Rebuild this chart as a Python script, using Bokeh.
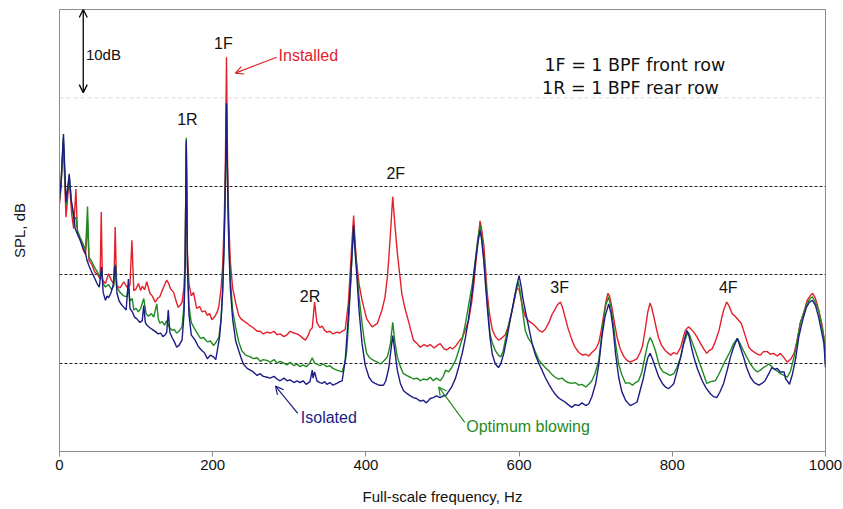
from bokeh.plotting import figure
from bokeh.models import Label, Arrow, OpenHead, Span, FixedTicker
from bokeh.embed import file_html
from bokeh.resources import INLINE

# ---------------- data (frequency Hz, SPL dB relative) ----------------
installed_pts = [
    (0, 28.0), (2, 30.0), (5, 35.0), (8.5, 26.5), (12.7, 30.8), (16, 26.8), (18.5, 25.2), (21.4, 29.7),
    (23.5, 24.6), (27, 24.0), (31, 22.8), (34, 22.3), (36.6, 26.0), (38.5, 21.6), (42, 21.2), (46, 20.3),
    (50, 20.0), (53, 19.5), (54.5, 27.1), (56, 19.4), (60, 19.0), (64, 20.1), (68, 19.3), (71, 19.0),
    (72.7, 25.4), (74.5, 18.8), (79, 18.5), (84, 19.2), (88, 18.6), (92, 18.8), (94.5, 23.9), (97, 18.2),
    (100, 18.4), (103, 19.0), (106, 18.2), (108, 18.7), (111, 18.3), (114, 19.2), (118, 17.9), (121, 17.6),
    (125, 16.9), (128, 17.3), (131, 17.5), (134, 18.2), (136, 18.6), (140, 19.4), (143, 18.9), (145, 18.4),
    (149, 18.0), (153, 16.8), (155, 16.3), (158, 16.6), (160, 16.9), (162.5, 18.5), (164, 22.0), (165.5, 34.8),
    (167, 22.5), (169, 19.0), (172, 17.6), (175, 18.0), (179, 16.2), (183, 16.4), (186, 15.8), (190, 15.9),
    (193, 15.4), (196, 15.6), (199, 14.9), (203, 15.3), (206, 15.8), (208, 16.4), (211, 18.5), (213, 21.0),
    (215, 26.0), (216.5, 32.0), (218, 44.6), (219.5, 32.0), (221, 26.0), (223, 21.5), (226, 18.5), (230, 16.8),
    (234, 15.4), (237, 15.0), (240, 14.8), (245, 14.5), (249, 14.2), (253, 14.0), (258, 13.6), (262, 13.6),
    (266, 13.3), (271, 13.5), (275, 13.4), (280, 13.6), (284, 13.2), (288, 13.3), (293, 13.0), (297, 13.2),
    (301, 13.6), (306, 13.4), (310, 13.3), (314, 13.1), (318, 12.8), (321, 12.6), (325, 13.2), (327, 13.7),
    (330, 14.0), (333, 16.9), (336, 14.6), (340, 14.0), (343, 14.2), (346, 13.7), (349, 13.5), (353, 13.6),
    (357, 13.3), (362, 13.5), (366, 13.4), (369, 13.6), (373, 13.8), (377, 16.7), (380, 21.0), (382, 24.0),
    (384, 26.7), (386, 23.5), (388, 21.3), (391, 19.0), (395, 17.1), (401, 15.0), (408, 14.1), (415, 14.5),
    (421, 16.0), (425, 17.5), (428, 19.7), (430, 22.0), (432, 24.6), (435, 28.8), (438, 25.5), (441, 22.5),
    (447, 17.8), (451, 16.2), (456, 14.6), (462, 12.6), (467, 12.2), (471, 11.8), (476, 12.1), (480, 11.9),
    (484, 12.1), (489, 11.7), (493, 12.0), (497, 12.2), (502, 11.6), (506, 11.5), (510, 11.8), (513, 11.6),
    (517, 11.9), (521, 12.4), (526, 12.9), (530, 13.8), (534, 14.8), (538, 16.8), (541, 19.0), (543, 20.9),
    (546, 23.5), (549, 26.1), (551, 25.2), (554, 23.3), (556, 20.9), (558, 18.3), (561, 15.8), (565, 13.8),
    (569, 13.0), (573, 12.6), (577, 12.8), (582, 13.2), (586, 14.2), (591, 16.0), (594, 17.2), (597, 18.5),
    (600, 18.3), (602, 17.5), (605, 16.2), (608, 15.3), (612, 14.8), (617, 14.5), (621, 14.2), (626, 13.7),
    (630, 13.5), (634, 13.8), (639, 14.6), (643, 15.5), (647, 16.1), (650, 16.6), (654, 16.9), (657, 16.2),
    (660, 15.2), (664, 13.9), (669, 12.6), (673, 11.8), (678, 11.2), (683, 10.9), (687, 11.0), (691, 10.8),
    (695, 11.2), (700, 11.6), (704, 12.3), (707, 13.6), (710, 15.2), (713, 16.8), (716, 17.9), (718, 17.6),
    (721, 16.4), (725, 14.3), (728, 12.9), (732, 11.6), (737, 10.7), (741, 10.3), (745, 10.1), (750, 10.3),
    (754, 10.5), (758, 11.2), (761, 11.9), (765, 14.0), (768, 15.8), (771, 16.8), (773, 16.3), (776, 15.2),
    (779, 14.0), (782, 12.9), (786, 12.0), (791, 11.4), (795, 11.1), (798, 10.9), (802, 11.2), (806, 11.0),
    (811, 11.8), (814, 12.8), (817, 13.7), (821, 14.1), (824, 13.9), (828, 13.5), (832, 13.0), (837, 12.2),
    (841, 11.6), (845, 11.1), (848, 11.4), (852, 11.6), (856, 12.4), (861, 13.7), (865, 15.3), (867, 16.0),
    (871, 16.9), (874, 16.5), (878, 15.6), (882, 15.3), (887, 14.8), (890, 14.5), (893, 13.7), (897, 12.6),
    (900, 11.8), (903, 11.5), (906, 11.3), (911, 11.0), (915, 10.9), (919, 11.3), (924, 11.3), (928, 11.0),
    (932, 11.1), (937, 10.8), (941, 11.1), (946, 10.6), (950, 10.1), (955, 10.5), (959, 11.1), (963, 12.6),
    (967, 14.5), (972, 15.8), (976, 17.1), (980, 17.6), (983, 17.9), (986, 17.5), (989, 16.7), (993, 15.3),
    (996, 14.1), (1000, 11.4),
]

optimum_pts = [
    (0, 28.3), (2, 30.0), (5, 35.5), (8.5, 27.8), (12.7, 31.1), (16, 27.9), (18.5, 26.3), (21.4, 26.5),
    (23.5, 25.0), (27, 24.2), (31, 23.4), (34, 22.8), (36.6, 27.7), (38.5, 22.0), (42, 21.5), (46, 20.8),
    (50, 20.2), (53, 19.7), (55, 20.5), (57, 19.0), (60, 18.6), (64, 18.9), (68, 18.3), (71, 18.8),
    (73, 21.2), (75, 18.6), (79, 18.0), (84, 17.6), (88, 17.5), (90, 18.6), (92, 17.0), (95, 17.3),
    (97, 16.0), (100, 16.2), (103, 15.8), (106, 16.2), (110, 17.3), (113, 15.6), (116, 15.3), (120, 15.6),
    (123, 15.2), (127, 16.7), (129, 15.0), (131, 14.5), (134, 14.7), (137, 14.3), (140, 14.8), (143, 14.1),
    (147, 13.7), (150, 13.8), (153, 13.4), (156, 13.6), (160, 14.1), (162.5, 16.5), (164, 21.0), (165.5, 35.5),
    (167, 21.5), (169, 16.5), (172, 14.6), (175, 14.1), (179, 13.5), (184, 12.8), (188, 12.9), (193, 12.4),
    (197, 12.5), (201, 12.0), (204, 12.3), (208, 12.9), (211, 15.0), (213, 18.5), (215, 24.0), (216.5, 30.0),
    (218, 39.2), (219.5, 30.0), (221, 24.0), (223, 19.5), (226, 16.0), (230, 14.0), (234, 12.4), (238, 11.4),
    (243, 10.9), (249, 10.7), (253, 10.5), (258, 10.6), (262, 10.2), (266, 10.4), (271, 10.3), (275, 10.1),
    (280, 10.4), (284, 10.0), (288, 10.2), (293, 10.0), (297, 9.8), (301, 10.1), (306, 9.7), (310, 9.9),
    (314, 9.6), (318, 9.8), (322, 9.6), (326, 9.9), (330, 10.6), (333, 10.0), (336, 9.9), (340, 9.7),
    (344, 9.9), (349, 9.6), (353, 9.7), (357, 9.4), (362, 9.2), (366, 9.1), (369, 9.0), (373, 10.2),
    (375, 11.4), (378, 15.5), (380, 19.0), (382, 22.5), (384, 25.4), (386, 22.8), (388, 20.9), (391, 17.5),
    (395, 14.5), (398, 12.5), (401, 11.1), (405, 10.6), (410, 10.3), (415, 10.1), (419, 9.9), (423, 10.2),
    (428, 10.7), (430, 11.4), (432, 12.2), (435, 14.6), (438, 12.3), (441, 10.7), (445, 9.6), (449, 8.8),
    (453, 8.6), (458, 8.4), (462, 8.2), (467, 8.3), (471, 8.0), (475, 8.2), (480, 8.1), (484, 8.4),
    (488, 8.0), (492, 8.3), (497, 8.0), (501, 8.5), (504, 9.2), (508, 9.0), (512, 9.5), (517, 10.3),
    (521, 11.4), (526, 12.8), (530, 14.5), (534, 16.5), (539, 19.0), (543, 21.8), (546, 24.0), (549, 25.6),
    (551, 24.5), (554, 21.8), (556, 19.7), (559, 16.4), (562, 13.3), (565, 12.3), (569, 11.4), (573, 10.9),
    (576, 10.7), (579, 11.3), (582, 12.6), (586, 14.2), (591, 16.0), (595, 17.8), (599, 19.2), (602, 17.8),
    (605, 15.6), (608, 13.7), (612, 12.8), (617, 12.2), (621, 11.3), (626, 10.3), (630, 9.9), (634, 9.5),
    (639, 9.1), (643, 8.7), (647, 8.4), (651, 8.2), (656, 8.3), (660, 8.0), (664, 7.8), (669, 7.7),
    (673, 7.8), (678, 7.5), (682, 7.6), (687, 7.3), (691, 7.6), (695, 8.0), (699, 8.8), (704, 10.3),
    (707, 12.5), (710, 14.8), (713, 16.5), (717, 17.5), (720, 16.3), (723, 14.5), (726, 12.2), (730, 9.9),
    (734, 8.7), (739, 7.7), (743, 7.8), (748, 7.5), (752, 7.8), (756, 8.0), (760, 8.9), (765, 11.0),
    (768, 12.2), (771, 12.9), (774, 12.4), (778, 11.4), (781, 10.4), (784, 9.5), (788, 9.0), (793, 8.8),
    (797, 8.6), (802, 8.8), (806, 9.5), (811, 10.7), (815, 12.2), (819, 13.2), (821, 13.5), (825, 12.6),
    (830, 11.4), (834, 10.4), (839, 9.2), (843, 8.2), (845, 7.7), (850, 7.9), (856, 8.0), (860, 8.6),
    (865, 9.5), (870, 10.4), (876, 11.4), (880, 12.2), (885, 12.8), (888, 12.3), (893, 11.4), (897, 10.7),
    (902, 9.9), (906, 9.4), (911, 9.0), (915, 9.2), (919, 9.5), (923, 9.7), (926, 9.9), (930, 9.6),
    (932, 9.4), (937, 9.1), (941, 8.8), (946, 8.6), (950, 8.4), (954, 9.0), (959, 10.7), (963, 12.5),
    (967, 14.5), (972, 15.8), (976, 16.8), (980, 17.3), (983, 17.5), (986, 17.0), (991, 16.0), (995, 14.2),
    (998, 12.9), (1000, 9.9),
]

isolated_pts = [
    (0, 28.6), (2, 30.5), (5.2, 35.9), (8.5, 28.2), (12.7, 31.4), (15.3, 28.4), (18.3, 26.9), (20.5, 25.2),
    (24, 24.5), (27, 23.9), (31, 23.0), (34, 22.4), (36, 21.6), (39, 20.9), (42, 20.3), (46, 19.6),
    (49, 19.0), (52, 18.6), (55, 20.9), (57, 18.0), (60, 17.1), (62, 17.6), (64, 17.4), (67, 17.9),
    (70, 18.8), (72, 20.8), (73, 21.0), (75, 17.9), (78, 17.0), (81, 16.6), (84, 16.3), (87, 16.0),
    (90, 19.5), (92, 16.2), (95, 15.8), (98, 15.2), (101, 15.0), (105, 14.6), (108, 14.8), (110, 16.5),
    (112, 14.6), (114, 14.3), (118, 14.0), (123, 13.7), (126, 13.5), (129, 13.3), (132, 13.4), (135, 13.0),
    (138, 13.2), (140, 13.5), (142, 16.0), (144, 13.5), (147, 12.9), (150, 12.4), (153, 11.8), (156, 12.0),
    (160, 12.6), (162.5, 15.5), (164, 20.5), (165.5, 35.2), (167, 21.0), (169, 15.5), (172, 13.2), (177, 12.6),
    (181, 11.9), (186, 11.4), (189, 11.2), (193, 10.5), (197, 10.9), (201, 10.7), (204, 10.4), (206, 11.4),
    (209, 13.0), (211, 15.0), (213, 18.0), (215, 23.5), (216.5, 30.0), (218, 39.4), (219.5, 30.0), (221, 23.5),
    (223, 18.5), (226, 15.0), (230, 12.5), (234, 11.4), (237, 10.6), (240, 9.9), (245, 9.4), (249, 9.2),
    (253, 9.0), (258, 8.6), (262, 8.8), (266, 8.5), (271, 8.4), (275, 8.3), (280, 8.5), (284, 8.2),
    (288, 8.0), (293, 8.3), (297, 8.0), (301, 8.1), (306, 7.8), (310, 8.0), (314, 7.8), (318, 8.0),
    (322, 7.6), (327, 7.9), (330, 9.2), (331, 8.3), (333, 9.0), (336, 8.0), (340, 7.8), (343, 7.7),
    (346, 7.9), (349, 7.6), (353, 7.8), (357, 7.5), (362, 7.7), (366, 7.9), (369, 8.0), (373, 10.3),
    (377, 15.2), (380, 19.0), (382, 22.5), (384, 25.6), (386, 22.5), (388, 20.1), (391, 16.0), (395, 12.2),
    (399, 9.8), (404, 8.4), (408, 7.9), (412, 7.7), (417, 7.5), (423, 7.5), (426, 8.0), (430, 9.5),
    (432, 11.0), (435, 13.1), (438, 11.2), (441, 9.2), (445, 7.7), (449, 6.9), (453, 6.6), (458, 6.3),
    (462, 6.1), (466, 6.0), (471, 5.7), (475, 5.8), (479, 5.5), (484, 6.0), (488, 6.1), (492, 6.3),
    (497, 6.1), (501, 6.3), (504, 6.3), (508, 6.8), (512, 7.3), (517, 8.3), (521, 9.5), (526, 11.2),
    (530, 12.9), (534, 15.0), (539, 18.2), (543, 21.5), (546, 23.5), (549, 25.0), (551, 24.0), (554, 21.5),
    (556, 19.0), (559, 15.8), (562, 12.9), (565, 11.0), (569, 9.9), (573, 9.5), (576, 9.9), (580, 11.1),
    (584, 12.8), (589, 15.2), (593, 17.0), (597, 18.8), (600, 19.9), (603, 18.5), (605, 17.3), (608, 16.0),
    (612, 14.3), (617, 12.2), (621, 11.0), (626, 9.9), (630, 9.2), (634, 8.4), (639, 7.6), (643, 7.0),
    (647, 6.5), (651, 6.1), (656, 5.8), (660, 5.6), (664, 5.3), (669, 5.0), (673, 5.3), (678, 5.2),
    (682, 5.5), (687, 5.2), (691, 5.4), (695, 6.2), (700, 7.7), (704, 9.8), (708, 12.9), (712, 15.2),
    (717, 16.7), (720, 15.6), (723, 13.7), (726, 11.0), (730, 8.4), (734, 6.8), (739, 5.8), (742, 5.5),
    (745, 5.2), (750, 5.4), (754, 5.6), (758, 6.9), (762, 8.2), (765, 9.5), (768, 10.6), (771, 11.1),
    (774, 10.5), (778, 9.5), (782, 8.5), (787, 7.7), (791, 7.3), (795, 7.1), (799, 7.4), (802, 7.7),
    (806, 9.0), (811, 10.7), (815, 12.4), (819, 13.7), (822, 13.0), (825, 11.8), (828, 10.7), (833, 9.3),
    (839, 8.0), (844, 7.2), (850, 6.5), (854, 6.2), (858, 6.1), (862, 6.7), (867, 7.7), (872, 9.3),
    (876, 10.7), (880, 11.8), (885, 12.8), (888, 12.0), (893, 10.7), (897, 9.5), (902, 8.4), (907, 7.8),
    (913, 7.5), (917, 7.7), (921, 8.0), (926, 8.8), (930, 9.5), (934, 9.3), (937, 9.4), (941, 9.0),
    (946, 9.0), (948, 8.2), (950, 8.0), (953, 7.6), (957, 8.8), (961, 10.5), (965, 12.9), (970, 14.8),
    (975, 16.3), (979, 16.9), (983, 17.1), (987, 16.5), (991, 15.2), (995, 13.5), (998, 12.2), (1000, 9.5),
]

x_ticks = [0, 200, 400, 600, 800, 1000]
grid_levels = [10, 20, 30]
faint_level = 40

# harmonic labels: (text, freq, level)
harmonic_labels = [("1F", 214, 46.1), ("1R", 167, 37.6), ("2F", 439, 31.4),
                   ("2R", 327, 17.5), ("3F", 653, 18.5), ("4F", 873, 18.5)]

RED = "#e3202b"
GREEN = "#1f8a22"
BLUE = "#1c1c84"

p = figure(width=843, height=509, x_range=(0, 1000), y_range=(0, 50),
           output_backend="svg", toolbar_location=None,
           min_border_left=59, min_border_right=18, min_border_top=9, min_border_bottom=58,
           background_fill_color="white", border_fill_color="white")

p.outline_line_color = "#8c8c8c"
p.outline_line_width = 1

# grid
p.xgrid.visible = False
p.ygrid.ticker = FixedTicker(ticks=grid_levels)
p.ygrid.grid_line_color = "#222222"
p.ygrid.grid_line_dash = "3 2"
p.ygrid.grid_line_width = 1
p.add_layout(Span(location=faint_level, dimension="width", line_color="#d8d8d8",
                  line_dash="4 3", line_width=1))

# axes
p.xaxis.ticker = FixedTicker(ticks=x_ticks)
p.xaxis.axis_line_color = "#8c8c8c"
p.xaxis.major_tick_line_color = "#8c8c8c"
p.xaxis.major_tick_in = 0
p.xaxis.major_tick_out = 5
p.xaxis.minor_tick_line_color = None
p.xaxis.major_label_text_font = "Liberation Sans"
p.xaxis.major_label_text_font_size = "15px"
p.xaxis.major_label_text_color = "#111111"
p.xaxis.major_label_standoff = 3
p.xaxis.axis_label = "Full-scale frequency, Hz"
p.xaxis.axis_label_text_font = "Liberation Sans"
p.xaxis.axis_label_text_font_size = "15px"
p.xaxis.axis_label_text_font_style = "normal"
p.xaxis.axis_label_text_color = "#111111"
p.xaxis.axis_label_standoff = 15

p.yaxis.ticker = FixedTicker(ticks=[])
p.yaxis.axis_line_color = "#8c8c8c"
p.yaxis.minor_tick_line_color = None
p.yaxis.major_tick_line_color = None
p.yaxis.axis_label = "SPL, dB"
p.yaxis.axis_label_text_font = "Liberation Sans"
p.yaxis.axis_label_text_font_size = "15px"
p.yaxis.axis_label_text_font_style = "normal"
p.yaxis.axis_label_text_color = "#111111"
p.yaxis.axis_label_standoff = 32

# lines
for pts, col in ((installed_pts, RED), (optimum_pts, GREEN), (isolated_pts, BLUE)):
    xs = [a for a, b in pts]
    ys = [b for a, b in pts]
    p.line(xs, ys, line_color=col, line_width=1.4)

# harmonic labels
for txt, fx, lv in harmonic_labels:
    p.add_layout(Label(x=fx, y=lv, text=txt, text_align="center", text_baseline="middle",
                       text_font="Liberation Sans", text_font_size="16px", text_color="#111111"))

# series annotations
p.add_layout(Label(x=286, y=44.8, text="Installed", text_align="left", text_baseline="middle",
                   text_font="Liberation Sans", text_font_size="16px", text_color=RED))
p.add_layout(Arrow(end=OpenHead(size=8, line_color=RED, line_width=1.2),
                   x_start=283.5, y_start=44.6, x_end=229.5, y_end=42.8,
                   line_color=RED, line_width=1.2))

p.add_layout(Label(x=315, y=3.9, text="Isolated", text_align="left", text_baseline="middle",
                   text_font="Liberation Sans", text_font_size="16px", text_color=BLUE))
p.add_layout(Arrow(end=OpenHead(size=8, line_color=BLUE, line_width=1.2),
                   x_start=311, y_start=4.3, x_end=282, y_end=7.4,
                   line_color=BLUE, line_width=1.2))

p.add_layout(Label(x=531, y=2.8, text="Optimum blowing", text_align="left", text_baseline="middle",
                   text_font="Liberation Sans", text_font_size="16px", text_color=GREEN))
p.add_layout(Arrow(end=OpenHead(size=8, line_color=GREEN, line_width=1.2),
                   x_start=529, y_start=3.3, x_end=495, y_end=7.3,
                   line_color=GREEN, line_width=1.2))

# 10 dB scale arrow
p.add_layout(Arrow(start=OpenHead(size=8, line_color="black", line_width=1.3),
                   end=OpenHead(size=8, line_color="black", line_width=1.3),
                   x_start=31, y_start=50, x_end=31, y_end=40.6,
                   line_color="black", line_width=1.3))
p.add_layout(Label(x=34.5, y=44.9, text="10dB", text_align="left", text_baseline="middle",
                   text_font="Liberation Sans", text_font_size="15px", text_color="#111111"))

# legend-like note
p.add_layout(Label(x=633, y=43.7, text="1F = 1 BPF front row", text_align="left", text_baseline="middle",
                   text_font="DejaVu Sans", text_font_size="17.5px", text_color="#111111"))
p.add_layout(Label(x=630, y=41.1, text="1R = 1 BPF rear row", text_align="left", text_baseline="middle",
                   text_font="DejaVu Sans", text_font_size="17.5px", text_color="#111111"))

open("out.html", "w").write(file_html(p, INLINE))
